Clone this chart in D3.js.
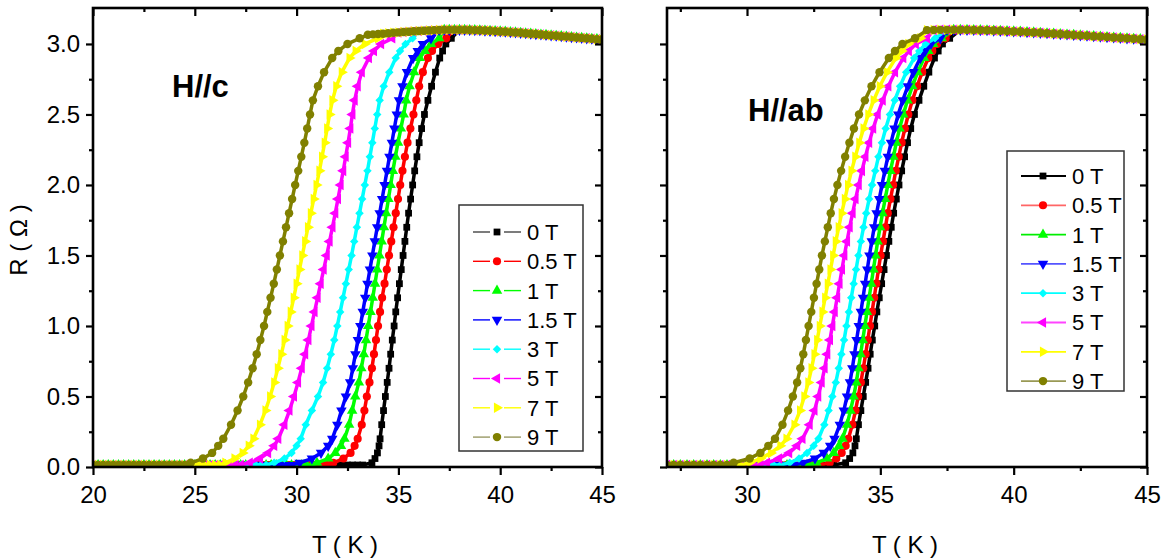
<!DOCTYPE html>
<html>
<head>
<meta charset="utf-8">
<script src="https://cdn.jsdelivr.net/npm/d3@7"></script>
<style>
    body { margin: 0; background: #fff; }
    svg text { font-family: "Liberation Sans", Arial, sans-serif; fill: #000; }
</style>
</head>
<body>
<div id="content"></div>
<script>

// field labels, same for both panels
var fields = ["0 T", "0.5 T", "1 T", "1.5 T", "3 T", "5 T", "7 T", "9 T"];

// resistance levels (Ohm) at which the transition temperatures were read
var rLevels = [0.03, 0.06, 0.1, 0.15, 0.2, 0.3, 0.4, 0.5, 0.6, 0.7, 0.8, 0.9, 1.0, 1.1, 1.2, 1.3, 1.4, 1.5,
    1.6, 1.7, 1.8, 1.9, 2.0, 2.1, 2.2, 2.3, 2.4, 2.5, 2.6, 2.7, 2.8, 2.9, 2.95, 3.0, 3.04];

// superconducting baseline (T in K), resistance ~ 0
var baseT = [20, 20.25, 20.5, 20.75, 21, 21.25, 21.5, 21.75, 22, 22.25, 22.5, 22.75, 23, 23.25, 23.5, 23.75,
    24, 24.25, 24.5, 24.75, 25, 25.25, 25.5, 25.75, 26, 26.25, 26.5, 26.75, 27, 27.25, 27.5, 27.75,
    28, 28.25, 28.5, 28.75, 29, 29.25, 29.5, 29.75, 30, 30.25, 30.5, 30.75, 31, 31.25, 31.5, 31.75,
    32, 32.25, 32.5, 32.75, 33, 33.25, 33.5, 33.75];
var baseR = 0.014;

// normal state
var normT = [33, 33.25, 33.5, 33.75, 34, 34.25, 34.5, 34.75, 35, 35.25, 35.5, 35.75, 36, 36.25, 36.5, 36.75,
    37, 37.25, 37.5, 37.75, 38, 38.25, 38.5, 38.75, 39, 39.25, 39.5, 39.75, 40, 40.25, 40.5, 40.75,
    41, 41.25, 41.5, 41.75, 42, 42.25, 42.5, 42.75, 43, 43.25, 43.5, 43.75, 44, 44.25, 44.5, 44.75, 45];
var normR = [3.06, 3.062, 3.065, 3.068, 3.07, 3.073, 3.076, 3.079, 3.082, 3.085, 3.087, 3.09, 3.092, 3.094, 3.096, 3.098,
    3.099, 3.1, 3.1, 3.1, 3.1, 3.1, 3.099, 3.098, 3.097, 3.095, 3.093, 3.091, 3.089, 3.087, 3.084, 3.082,
    3.079, 3.076, 3.073, 3.07, 3.067, 3.064, 3.061, 3.058, 3.055, 3.052, 3.049, 3.046, 3.043, 3.04, 3.037, 3.034, 3.031];

// H//c : temperature at each rLevel
var hc0 = [33.7, 33.85, 33.97, 34.05, 34.1, 34.18, 34.27, 34.36, 34.45, 34.54, 34.62, 34.7, 34.79, 34.87, 34.96, 35.05, 35.14, 35.23,
    35.32, 35.41, 35.5, 35.6, 35.7, 35.8, 35.91, 36.02, 36.14, 36.28, 36.45, 36.63, 36.82, 37.03, 37.17, 37.33, 37.6];
var hc05 = [31.8, 32.3, 32.65, 32.85, 33.0, 33.2, 33.33, 33.45, 33.58, 33.7, 33.8, 33.9, 34.0, 34.1, 34.2, 34.32, 34.43, 34.54,
    34.65, 34.76, 34.87, 34.98, 35.09, 35.2, 35.32, 35.45, 35.59, 35.74, 35.88, 36.02, 36.2, 36.45, 36.65, 36.95, 37.35];
var hc1 = [31.0, 31.55, 31.9, 32.18, 32.35, 32.58, 32.73, 32.88, 33.06, 33.18, 33.3, 33.41, 33.52, 33.63, 33.74, 33.85, 33.96, 34.07,
    34.18, 34.29, 34.4, 34.51, 34.62, 34.73, 34.85, 34.98, 35.12, 35.26, 35.38, 35.55, 35.77, 36.05, 36.3, 36.6, 37.0];
var hc15 = [30.15, 30.75, 31.2, 31.55, 31.75, 32.0, 32.2, 32.42, 32.63, 32.76, 32.89, 33.01, 33.13, 33.25, 33.37, 33.48, 33.6, 33.72,
    33.84, 33.96, 34.08, 34.2, 34.32, 34.44, 34.56, 34.68, 34.8, 34.92, 35.03, 35.2, 35.42, 35.72, 35.95, 36.2, 36.6];
var hc3 = [28.9, 29.4, 29.75, 30.0, 30.2, 30.45, 30.75, 31.05, 31.3, 31.5, 31.68, 31.85, 32.0, 32.14, 32.28, 32.42, 32.56, 32.7,
    32.83, 32.96, 33.09, 33.22, 33.35, 33.48, 33.6, 33.72, 33.84, 33.96, 34.08, 34.28, 34.55, 34.87, 35.08, 35.35, 35.7];
var hc5 = [27.7, 28.2, 28.6, 28.9, 29.1, 29.4, 29.65, 29.87, 30.07, 30.25, 30.42, 30.58, 30.73, 30.88, 31.03, 31.18, 31.33, 31.48,
    31.62, 31.76, 31.9, 32.03, 32.16, 32.29, 32.41, 32.53, 32.64, 32.74, 32.85, 33.0, 33.2, 33.55, 33.8, 34.15, 34.7];
var hc7 = [26.5, 26.95, 27.35, 27.65, 27.88, 28.2, 28.47, 28.7, 28.9, 29.08, 29.25, 29.41, 29.56, 29.71, 29.86, 30.0, 30.14, 30.28,
    30.42, 30.56, 30.7, 30.84, 30.98, 31.12, 31.25, 31.38, 31.5, 31.62, 31.76, 31.95, 32.22, 32.6, 32.9, 33.35, 34.0];
var hc9 = [24.8, 25.4, 25.85, 26.15, 26.4, 26.78, 27.1, 27.38, 27.62, 27.84, 28.04, 28.22, 28.4, 28.56, 28.72, 28.88, 29.03, 29.18,
    29.33, 29.48, 29.63, 29.78, 29.93, 30.08, 30.23, 30.38, 30.52, 30.66, 30.8, 31.05, 31.35, 31.75, 32.05, 32.5, 33.1];

// H//ab
var hab0 = [33.7, 33.85, 33.97, 34.05, 34.1, 34.18, 34.27, 34.36, 34.45, 34.54, 34.62, 34.7, 34.79, 34.87, 34.96, 35.05, 35.14, 35.23,
    35.32, 35.41, 35.5, 35.6, 35.7, 35.8, 35.91, 36.02, 36.14, 36.28, 36.45, 36.63, 36.82, 37.03, 37.17, 37.33, 37.6];
var hab05 = [33.1, 33.35, 33.55, 33.7, 33.8, 33.95, 34.07, 34.17, 34.27, 34.36, 34.45, 34.53, 34.61, 34.69, 34.77, 34.85, 34.93, 35.01,
    35.1, 35.19, 35.28, 35.38, 35.48, 35.58, 35.69, 35.8, 35.92, 36.05, 36.2, 36.38, 36.57, 36.8, 36.95, 37.13, 37.45];
var hab1 = [32.6, 33.0, 33.25, 33.45, 33.58, 33.75, 33.88, 34.0, 34.1, 34.18, 34.26, 34.34, 34.42, 34.5, 34.58, 34.66, 34.74, 34.82,
    34.9, 34.99, 35.08, 35.18, 35.28, 35.38, 35.49, 35.6, 35.72, 35.86, 36.02, 36.2, 36.4, 36.64, 36.8, 36.98, 37.3];
var hab15 = [32.1, 32.55, 32.88, 33.12, 33.28, 33.48, 33.63, 33.75, 33.86, 33.95, 34.03, 34.11, 34.19, 34.27, 34.35, 34.43, 34.51, 34.59,
    34.68, 34.77, 34.86, 34.96, 35.06, 35.17, 35.28, 35.4, 35.53, 35.67, 35.84, 36.03, 36.24, 36.5, 36.68, 36.9, 37.25];
var hab3 = [31.6, 31.95, 32.25, 32.5, 32.68, 32.9, 33.06, 33.2, 33.33, 33.44, 33.54, 33.64, 33.73, 33.82, 33.91, 34.0, 34.09, 34.18,
    34.27, 34.37, 34.47, 34.58, 34.69, 34.81, 34.93, 35.06, 35.2, 35.36, 35.54, 35.74, 35.97, 36.27, 36.46, 36.7, 37.05];
var hab5 = [30.75, 31.2, 31.58, 31.88, 32.08, 32.35, 32.53, 32.67, 32.8, 32.91, 33.01, 33.11, 33.2, 33.29, 33.38, 33.47, 33.56, 33.65,
    33.75, 33.85, 33.96, 34.07, 34.19, 34.31, 34.44, 34.58, 34.73, 34.9, 35.09, 35.3, 35.55, 35.86, 36.07, 36.33, 36.75];
var hab7 = [30.1, 30.5, 30.9, 31.25, 31.48, 31.78, 31.99, 32.15, 32.3, 32.42, 32.53, 32.63, 32.73, 32.83, 32.93, 33.03, 33.13, 33.23,
    33.33, 33.44, 33.55, 33.67, 33.79, 33.92, 34.06, 34.21, 34.37, 34.55, 34.75, 34.98, 35.25, 35.58, 35.8, 36.05, 36.5];
var hab9 = [29.5, 30.1, 30.5, 30.8, 31.05, 31.33, 31.54, 31.72, 31.88, 32.0, 32.11, 32.21, 32.31, 32.41, 32.51, 32.61, 32.71, 32.81,
    32.92, 33.03, 33.14, 33.26, 33.39, 33.53, 33.68, 33.84, 34.01, 34.2, 34.42, 34.67, 34.97, 35.32, 35.55, 35.83, 36.3];

// ticks
var yMajor = [0, 0.5, 1.0, 1.5, 2.0, 2.5, 3.0];
var yMinor = [0.25, 0.75, 1.25, 1.75, 2.25, 2.75];
var xMajorC = [20, 25, 30, 35, 40, 45];
var xMinorC = [22.5, 27.5, 32.5, 37.5, 42.5];
var xMajorAb = [30, 35, 40, 45];
var xMinorAb = [27.5, 32.5, 37.5, 42.5];


// styles
var colors = ["#000000", "#ff0000", "#00ff00", "#0000ff", "#00ffff", "#ff00ff", "#ffff00", "#808000"];
var legLineC = ["#444444", "#ff0000", "#00ff00", "#0000ff", "#00ffff", "#ff00ff", "#ffff00", "#999966"];
var legLineAb = ["#000000", "#ff6666", "#00ee00", "#5555ff", "#00ffff", "#ff44ff", "#ffff00", "#999955"];
var shapes = [
    { type: d3.symbolSquare, size: 46, rot: 0 },
    { type: d3.symbolCircle, size: 52, rot: 0 },
    { type: d3.symbolTriangle, size: 48, rot: 0 },
    { type: d3.symbolTriangle, size: 48, rot: 180 },
    { type: d3.symbolSquare, size: 36, rot: 45 },
    { type: d3.symbolTriangle, size: 48, rot: -90 },
    { type: d3.symbolTriangle, size: 48, rot: 90 },
    { type: d3.symbolCircle, size: 56, rot: 0 }
];

var W = 1169, H = 558;
var TOP = 8, BOTTOM = 467;

function buildSeries(tArr) {
    var pts = [];
    var t0 = tArr[0], t1 = tArr[tArr.length - 1];
    for (var i = 0; i < baseT.length; i++) {
        if (baseT[i] < t0 - 0.2) pts.push([baseT[i], baseR]);
    }
    for (var j = 0; j < rLevels.length; j++) {
        pts.push([tArr[j], rLevels[j]]);
    }
    for (var k = 0; k < normT.length; k++) {
        if (normT[k] > t1 + 0.2) pts.push([normT[k], normR[k]]);
    }
    return pts;
}

function drawPanel(svg, p) {

    var x = d3.scaleLinear().domain(p.xDomain).range([p.left, p.right]);
    var y = d3.scaleLinear().domain([0, 3.255]).range([BOTTOM, TOP]);

    svg.append("clipPath").attr("id", p.id)
        .append("rect")
        .attr("x", p.left).attr("y", TOP)
        .attr("width", p.right - p.left).attr("height", BOTTOM - TOP);

    var plot = svg.append("g").attr("clip-path", "url(#" + p.id + ")");

    var line = d3.line()
        .x(function (d) { return x(d[0]); })
        .y(function (d) { return y(d[1]); });

    p.curves.forEach(function (tArr, i) {
        var pts = buildSeries(tArr);
        var sym = d3.symbol().type(shapes[i].type).size(shapes[i].size);

        plot.append("path")
            .datum(pts)
            .attr("d", line)
            .attr("fill", "none")
            .attr("stroke", colors[i])
            .attr("stroke-width", 3.5)
            .attr("stroke-linejoin", "round");

        plot.selectAll(".m" + i)
            .data(pts)
            .enter()
            .append("path")
            .attr("class", "m" + i)
            .attr("d", sym)
            .attr("transform", function (d) {
                return "translate(" + x(d[0]) + "," + y(d[1]) + ") rotate(" + shapes[i].rot + ")";
            })
            .attr("fill", colors[i]);
    });

    // axes
    var axB = svg.append("g").attr("transform", "translate(0," + BOTTOM + ")")
        .call(d3.axisBottom(x).tickValues(p.xMajor).tickSize(8).tickSizeOuter(0).tickPadding(11).tickFormat(d3.format("d")));
    svg.append("g").attr("transform", "translate(0," + BOTTOM + ")")
        .call(d3.axisBottom(x).tickValues(p.xMinor).tickSize(4).tickSizeOuter(0).tickFormat(""));
    svg.append("g").attr("transform", "translate(0," + TOP + ")")
        .call(d3.axisTop(x).tickValues(p.xMajor).tickSize(-8).tickSizeOuter(0).tickFormat(""));
    svg.append("g").attr("transform", "translate(0," + TOP + ")")
        .call(d3.axisTop(x).tickValues(p.xMinor).tickSize(-4).tickSizeOuter(0).tickFormat(""));

    var axL = svg.append("g").attr("transform", "translate(" + p.left + ",0)")
        .call(d3.axisLeft(y).tickValues(yMajor).tickSize(7).tickSizeOuter(0).tickPadding(6)
            .tickFormat(p.yLabels ? d3.format(".1f") : ""));
    svg.append("g").attr("transform", "translate(" + p.left + ",0)")
        .call(d3.axisLeft(y).tickValues(yMinor).tickSize(4).tickSizeOuter(0).tickFormat(""));
    svg.append("g").attr("transform", "translate(" + p.right + ",0)")
        .call(d3.axisRight(y).tickValues(yMajor).tickSize(-7).tickSizeOuter(0).tickFormat(""));
    svg.append("g").attr("transform", "translate(" + p.right + ",0)")
        .call(d3.axisRight(y).tickValues(yMinor).tickSize(-4).tickSizeOuter(0).tickFormat(""));

    svg.selectAll(".domain").remove();
    svg.selectAll(".tick line").attr("stroke", "#000").attr("stroke-width", 2.2);
    axB.selectAll("text").attr("font-size", "24px").attr("fill", "#000");
    axL.selectAll("text").attr("font-size", "24px").attr("fill", "#000");

    svg.append("rect")
        .attr("x", p.left).attr("y", TOP)
        .attr("width", p.right - p.left).attr("height", BOTTOM - TOP)
        .attr("fill", "none")
        .attr("stroke", "#000")
        .attr("stroke-width", 2.6);

    // x title
    svg.append("text")
        .attr("x", p.titleX).attr("y", 553)
        .attr("text-anchor", "middle")
        .attr("font-size", "24px")
        .text("T ( K )");

    // panel label
    svg.append("text")
        .attr("x", p.labelX).attr("y", p.labelY)
        .attr("font-size", "31px")
        .attr("font-weight", "bold")
        .text(p.label);

    // legend
    var lg = p.legend;
    svg.append("rect")
        .attr("x", lg.x).attr("y", lg.y)
        .attr("width", lg.w).attr("height", lg.h)
        .attr("fill", "#fff")
        .attr("stroke", "#333")
        .attr("stroke-width", 1.5);

    var rows = svg.selectAll(".leg" + p.id)
        .data(fields)
        .enter()
        .append("g")
        .attr("class", "leg" + p.id)
        .attr("transform", function (d, i) {
            return "translate(0," + (lg.y0 + i * lg.step) + ")";
        });

    rows.each(function (d, i) {
        var r = d3.select(this);
        if (lg.gap) {
            r.append("line").attr("x1", lg.x1).attr("x2", lg.mx - 7).attr("y1", 0).attr("y2", 0)
                .attr("stroke", lg.lineColors[i]).attr("stroke-width", 1.4);
            r.append("line").attr("x1", lg.mx + 7).attr("x2", lg.x2).attr("y1", 0).attr("y2", 0)
                .attr("stroke", lg.lineColors[i]).attr("stroke-width", 1.4);
        } else {
            r.append("line").attr("x1", lg.x1).attr("x2", lg.x2).attr("y1", 0).attr("y2", 0)
                .attr("stroke", lg.lineColors[i]).attr("stroke-width", 1.8);
        }
        r.append("path")
            .attr("d", d3.symbol().type(shapes[i].type).size(shapes[i].size))
            .attr("transform", "translate(" + lg.mx + ",0) rotate(" + shapes[i].rot + ")")
            .attr("fill", colors[i]);
        r.append("text")
            .attr("x", lg.tx).attr("y", 0)
            .attr("dy", "0.36em")
            .attr("font-size", "22px")
            .text(d);
    });
}

function init() {

    var svg = d3.select("#content").append("svg")
        .attr("width", W).attr("height", H);

    svg.append("text")
        .attr("transform", "translate(27,240) rotate(-90)")
        .attr("text-anchor", "middle")
        .attr("font-size", "24px")
        .text("R ( \u03A9 )");

    drawPanel(svg, {
        id: "pc", left: 93, right: 602, xDomain: [20, 45],
        xMajor: xMajorC, xMinor: xMinorC, yLabels: true,
        curves: [hc0, hc05, hc1, hc15, hc3, hc5, hc7, hc9],
        titleX: 345, label: "H//c", labelX: 172, labelY: 97,
        legend: { x: 459, y: 205, w: 124, h: 246, y0: 232, step: 29.3,
            x1: 473, x2: 521, mx: 497, tx: 527, gap: true, lineColors: legLineC }
    });

    drawPanel(svg, {
        id: "pab", left: 667, right: 1147, xDomain: [27, 45],
        xMajor: xMajorAb, xMinor: xMinorAb, yLabels: false,
        curves: [hab0, hab05, hab1, hab15, hab3, hab5, hab7, hab9],
        titleX: 905, label: "H//ab", labelX: 748, labelY: 121,
        legend: { x: 1007, y: 151, w: 117, h: 240, y0: 176, step: 29.3,
            x1: 1021, x2: 1066, mx: 1043, tx: 1072, gap: false, lineColors: legLineAb }
    });
}

window.onload = init;
</script>
</body>
</html>
